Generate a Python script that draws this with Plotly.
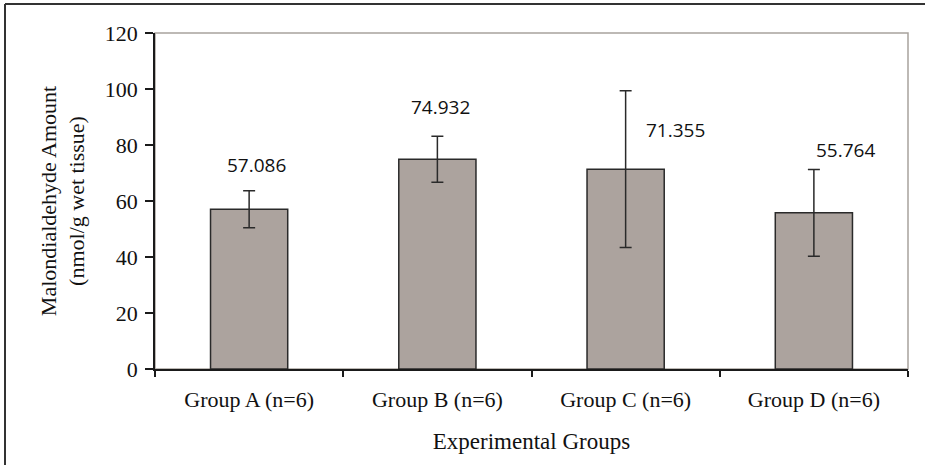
import plotly.graph_objects as go

categories = ["Group A (n=6)", "Group B (n=6)", "Group C (n=6)", "Group D (n=6)"]
means = [57.086, 74.932, 71.355, 55.764]
errors = [6.6, 8.2, 28.0, 15.5]
labels = ["57.086", "74.932", "71.355", "55.764"]
y_ticks = [0, 20, 40, 60, 80, 100, 120]

# label offsets (pixels) as placed in the original figure
label_dx = [7, 3, 50, 32]
label_dy = [44, 52, 39, 63]

fig = go.Figure()
fig.add_trace(go.Bar(
    x=categories, y=means,
    marker=dict(color="#aca39e", line=dict(color="#2a2a2a", width=1.5)),
    error_y=dict(type="data", array=errors, visible=True,
                 color="#2a2a2a", thickness=1.5, width=6),
    showlegend=False, hoverinfo="skip",
))

for c, m, t, dx, dy in zip(categories, means, labels, label_dx, label_dy):
    fig.add_annotation(x=c, y=m, text=t, showarrow=False,
                       xshift=dx, yshift=dy,
                       font=dict(family="Open Sans", size=19, color="#111111"))

serif = "Liberation Serif, Times New Roman, serif"

fig.update_layout(
    width=925, height=465,
    margin=dict(l=155, r=17, t=33, b=96),
    paper_bgcolor="white", plot_bgcolor="white",
    bargap=0.59,
    font=dict(family=serif, size=20, color="#111111"),
    xaxis=dict(
        showline=True, linecolor="#1a1a1a", linewidth=1.5,
        ticks="outside", ticklen=6, tickcolor="#1a1a1a", tickwidth=1.5,
        tickson="boundaries", showgrid=False,
        tickfont=dict(family=serif, size=22),
        ticklabelstandoff=10,
        title=dict(text="Experimental Groups", font=dict(family=serif, size=23), standoff=22),
    ),
    yaxis=dict(
        range=[0, 120], tickvals=y_ticks,
        showline=True, linecolor="#1a1a1a", linewidth=1.5,
        ticks="outside", ticklen=8, tickcolor="#1a1a1a", tickwidth=1.5,
        showgrid=False, zeroline=False,
        tickfont=dict(family=serif, size=22),
        ticklabelstandoff=3,
        title=dict(text="Malondialdehyde Amount<br>(nmol/g wet tissue)",
                   font=dict(family=serif, size=22), standoff=14),
    ),
    shapes=[
        dict(type="rect", xref="paper", yref="paper", x0=0, x1=1, y0=0, y1=1,
             line=dict(color="#a8a29d", width=1.5), layer="below"),
        dict(type="line", xref="paper", yref="paper", x0=-150/753, x1=-150/753,
             y0=-96/336, y1=1 + 29/336, line=dict(color="#333333", width=2)),
        dict(type="line", xref="paper", yref="paper", x0=-150/753, x1=1 + 17/753,
             y0=1 + 29/336, y1=1 + 29/336, line=dict(color="#333333", width=2)),
    ],
)

fig.write_html("out.html", config={"displayModeBar": False},
               post_script="document.body.style.margin='0';")
